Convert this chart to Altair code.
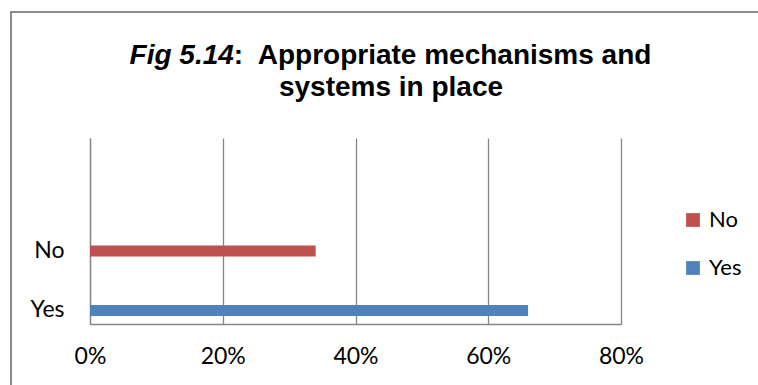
import altair as alt
import pandas as pd

# Survey answers and their shares
categories = ["No", "Yes"]
shares = [0.34, 0.66]
bar_colors = ["#C0504D", "#4F81BD"]
x_ticks = [0, 0.2, 0.4, 0.6, 0.8]

title_lead = "Fig 5.14"
title_rest = ":\u00a0 Appropriate mechanisms and"
title_line2 = "systems in place"

df = pd.DataFrame({"answer": categories, "share": shares})

LEFT, TOP = 90, 138
W, H = 531, 186
GRID = "#868686"
FONT = "Lato"
TITLE_FONT = "Liberation Sans"
TFS = 28
CENTER_X = 391

bars = alt.Chart(df).mark_bar(size=11).encode(
    x=alt.X(
        "share:Q",
        scale=alt.Scale(domain=[0, 0.8], nice=False, zero=True),
        axis=alt.Axis(
            values=x_ticks, format=".0%", title=None, grid=True,
            gridColor=GRID, gridWidth=1.3, domain=True, domainColor=GRID,
            domainWidth=1.3, ticks=False, labelFont=FONT, labelFontSize=23,
            labelColor="#000000", labelPadding=21, labelFlush=False,
        ),
    ),
    y=alt.Y(
        "answer:N",
        sort=categories,
        scale=alt.Scale(type="band", paddingInner=0.664, paddingOuter=0.895, align=0.967),
        axis=alt.Axis(
            title=None, ticks=False, domain=True, domainColor=GRID,
            domainWidth=1.3, labelFont=FONT, labelFontSize=23,
            labelPadding=26, labelColor="#000000",
        ),
    ),
    color=alt.Color(
        "answer:N",
        scale=alt.Scale(domain=categories, range=bar_colors),
        legend=alt.Legend(
            title=None, orient="none", legendX=592, legendY=71,
            symbolType="square", symbolSize=190, symbolStrokeWidth=0,
            labelFont=FONT, labelFontSize=22, labelColor="#000000",
            rowPadding=26, labelOffset=5,
        ),
    ),
)

# Title pieces: italic lead, upright remainder, and second line
one = pd.DataFrame({"lead": [title_lead], "rest": [title_rest], "l2": [title_line2]})
split_x = CENTER_X - LEFT - (18.672 * TFS) / 2 + 3.724 * TFS

lead = alt.Chart(one).mark_text(
    font=TITLE_FONT, fontSize=TFS, fontWeight="bold", fontStyle="italic",
    align="right", baseline="alphabetic", color="#000000",
).encode(text="lead:N", x=alt.value(split_x), y=alt.value(63.5 - TOP))

rest = alt.Chart(one).mark_text(
    font=TITLE_FONT, fontSize=TFS, fontWeight="bold",
    align="left", baseline="alphabetic", color="#000000",
).encode(text="rest:N", x=alt.value(split_x), y=alt.value(63.5 - TOP))

line2 = alt.Chart(one).mark_text(
    font=TITLE_FONT, fontSize=TFS, fontWeight="bold",
    align="center", baseline="alphabetic", color="#000000",
).encode(text="l2:N", x=alt.value(CENTER_X - LEFT), y=alt.value(96 - TOP))

# Chart-area frame (left and top edges)
frame_left = alt.Chart(one).mark_rule(color="#8c8c8c", strokeWidth=2).encode(
    x=alt.value(11 - LEFT), y=alt.value(12 - TOP), y2=alt.value(400 - TOP)
)
frame_top = alt.Chart(one).mark_rule(color="#8c8c8c", strokeWidth=2).encode(
    x=alt.value(10 - LEFT), x2=alt.value(770 - LEFT), y=alt.value(12 - TOP)
)

chart = alt.layer(frame_left, frame_top, bars, lead, rest, line2).properties(
    width=W, height=H,
    padding={"left": LEFT, "top": TOP, "right": 758 - LEFT - W, "bottom": 385 - TOP - H},
    autosize="none",
    background="#ffffff",
).configure_view(strokeWidth=0)

chart.save("out.html", embed_options={"renderer": "svg", "actions": False})
